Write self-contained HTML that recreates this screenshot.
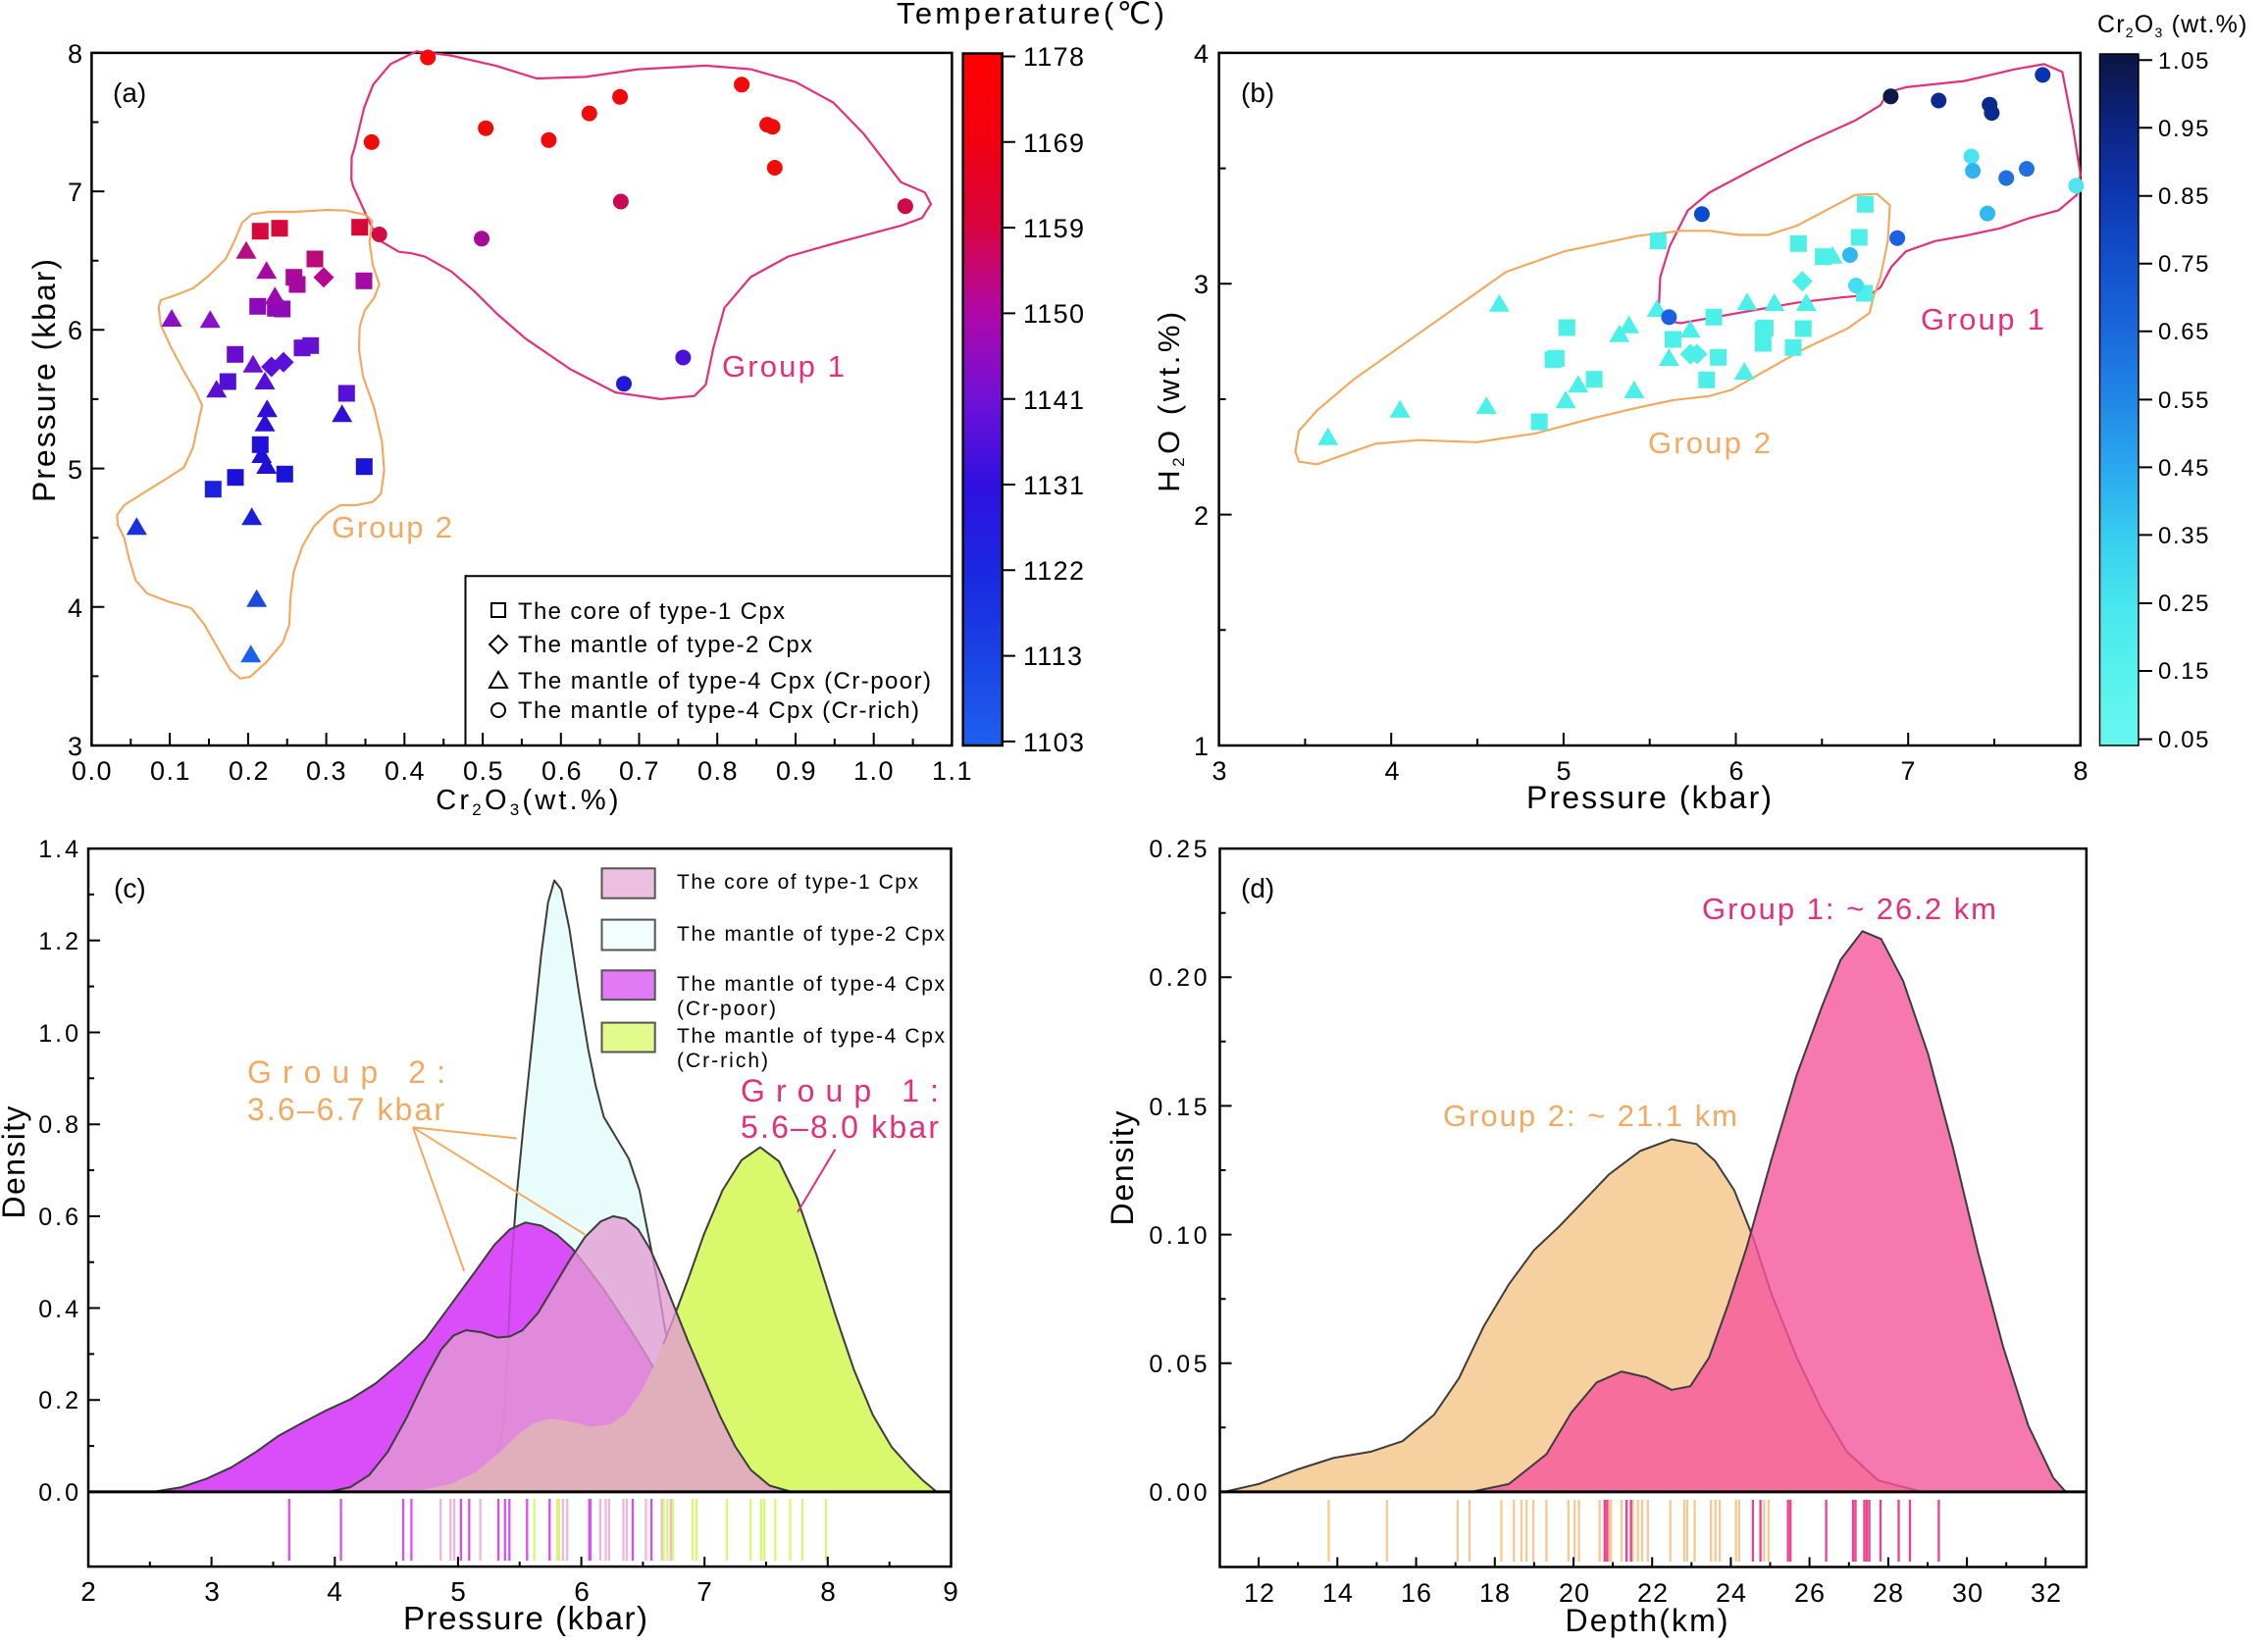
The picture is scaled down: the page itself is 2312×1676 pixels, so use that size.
<!DOCTYPE html>
<html><head><meta charset="utf-8"><style>html,body{margin:0;padding:0;background:#fff}svg{display:block}</style></head><body>
<svg xmlns="http://www.w3.org/2000/svg" width="2312" height="1676" viewBox="0 0 2312 1676" font-family="'Liberation Sans', 'DejaVu Sans', Arial, sans-serif">
<defs>
<linearGradient id="gT" x1="0" y1="0" x2="0" y2="1">
<stop offset="0" stop-color="#ff0000"/><stop offset="0.125" stop-color="#f2000f"/><stop offset="0.25" stop-color="#d80440"/><stop offset="0.375" stop-color="#b008a8"/><stop offset="0.5" stop-color="#7010d8"/><stop offset="0.625" stop-color="#3010e0"/><stop offset="0.75" stop-color="#1a28e0"/><stop offset="0.875" stop-color="#1a44e4"/><stop offset="1" stop-color="#1e60f0"/>
</linearGradient>
<linearGradient id="gC" x1="0" y1="0" x2="0" y2="1">
<stop offset="0" stop-color="#0c1440"/><stop offset="0.1" stop-color="#0c2480"/><stop offset="0.2" stop-color="#0e36b0"/><stop offset="0.3" stop-color="#1250cc"/><stop offset="0.4" stop-color="#1a68dc"/><stop offset="0.5" stop-color="#2088e6"/><stop offset="0.6" stop-color="#2aa8ee"/><stop offset="0.7" stop-color="#38cef0"/><stop offset="0.8" stop-color="#48e6ee"/><stop offset="0.9" stop-color="#58f2ee"/><stop offset="1" stop-color="#68f6f0"/>
</linearGradient>
<rect id="sq" x="-8.5" y="-8.5" width="17" height="17"/>
<path id="tri" d="M0,-11L10.5,7L-10.5,7Z"/>
<path id="dia" d="M0,-10.5L10.5,0L0,10.5L-10.5,0Z"/>
<circle id="ci" r="8"/>
</defs>

<!-- ================= PANEL (a) ================= -->
<g fill="none" stroke="#000" stroke-width="2.5">
<rect x="93.4" y="53.9" width="877" height="706.1"/>
<path d="M93.4,760v-13M133.3,760v-7M173.1,760v-13M213,760v-7M252.9,760v-13M292.7,760v-7M332.6,760v-13M372.5,760v-7M412.3,760v-13M452.2,760v-7M492.1,760v-13M531.9,760v-7M571.8,760v-13M611.6,760v-7M651.5,760v-13M691.4,760v-7M731.2,760v-13M771.1,760v-7M811,760v-13M850.8,760v-7M890.7,760v-13M930.6,760v-7" stroke-width="2"/>
<path d="M93.4,689.4h7M93.4,618.8h13M93.4,548.2h7M93.4,477.6h13M93.4,406.9h7M93.4,336.3h13M93.4,265.7h7M93.4,195.1h13M93.4,124.5h7M93.4,53.9h13" stroke-width="2"/>
<path d="M474.5,760V587.3H970.4" stroke-width="2"/>
</g>
<g font-size="27" letter-spacing="1.5" text-anchor="middle">
<text x="94" y="795">0.0</text><text x="174" y="795">0.1</text><text x="254" y="795">0.2</text><text x="333" y="795">0.3</text><text x="413" y="795">0.4</text><text x="493" y="795">0.5</text><text x="573" y="795">0.6</text><text x="652" y="795">0.7</text><text x="732" y="795">0.8</text><text x="812" y="795">0.9</text><text x="891" y="795">1.0</text><text x="971" y="795">1.1</text>
</g>
<g font-size="27" text-anchor="end">
<text x="84" y="770">3</text><text x="84" y="629">4</text><text x="84" y="488">5</text><text x="84" y="346">6</text><text x="84" y="205">7</text><text x="84" y="64">8</text>
</g>
<text x="539" y="825" font-size="29" letter-spacing="3.2" text-anchor="middle">Cr<tspan font-size="17" dy="6">2</tspan><tspan dy="-6">O</tspan><tspan font-size="17" dy="6">3</tspan><tspan dy="-6">(wt.%)</tspan></text>
<text transform="translate(56,388) rotate(-90)" font-size="32" text-anchor="middle" textLength="248" lengthAdjust="spacing">Pressure (kbar)</text>
<text x="115" y="104" font-size="28">(a)</text>

<!-- group outlines (a) -->
<path d="M424.7,52.3L459.2,56.5L505.1,66.9L547.2,80L596.9,78.4L650.5,70.6L719.4,66.9L765.3,70.6L811.2,83.7L849.5,104.6L880.1,136L918.4,185.7L942.8,196.1L949,208.1L939.8,222.3L918.4,230.1L849.5,248.4L803.6,261.5L765.3,282.4L738.5,313.8L727,355.6L719.4,392.2L707.9,403.7L673.5,406.9L627.5,400.1L581.6,376.5L535.7,345.2L506.7,320L483.3,296.7L460,276.7L433.3,261.7L420,258.3L406.7,256.7L386.7,245L378.3,230L360,190L358.2,183L358.5,160L361.2,151.7L371.2,109.8L380.4,86.3L398,65.4Z" fill="none" stroke="#e3307c" stroke-width="2.2" stroke-linejoin="round"/>
<g transform="matrix(0.33333,0,0,0.33333,100,190)">
<path d="M838,105L830,170L840,240L860,300L845,340L815,380L800,430L798,500L810,580L845,680L868,780L875,870L865,940L840,965L790,975L740,975L700,1000L660,1040L625,1100L598,1180L588,1260L585,1340L565,1395L515,1455L465,1500L435,1505L405,1480L365,1410L325,1340L285,1290L215,1270L150,1245L115,1205L95,1140L80,1075L60,1035L58,1005L80,975L135,940L200,900L262,860L290,800L305,730L318,670L300,630L262,565L222,490L192,425L185,370L192,348L230,335L290,312L340,272L390,222L418,165L440,112L470,85L520,78L600,78L700,72L760,74L820,88Z" fill="none" stroke="#f2aa62" stroke-width="2.2" vector-effect="non-scaling-stroke" stroke-linejoin="round"/>
</g>
<text x="736" y="384" font-size="31" fill="#e3307c" textLength="125" lengthAdjust="spacing">Group 1</text>
<text x="338" y="548" font-size="31" fill="#f2aa62" textLength="123" lengthAdjust="spacing">Group 2</text>

<!-- markers (a) -->
<g>
<use href="#sq" x="265.3" y="235.7" fill="#d6083c"/><use href="#sq" x="285" y="232.7" fill="#d6083c"/><use href="#sq" x="366.7" y="231.7" fill="#da0636"/>
<use href="#sq" x="321" y="264" fill="#b80a78"/><use href="#sq" x="299.7" y="282.7" fill="#aa0a96"/><use href="#sq" x="303" y="290" fill="#a40aa0"/><use href="#sq" x="371" y="286.3" fill="#a40aa4"/>
<use href="#sq" x="262.7" y="312.3" fill="#8e0ab8"/><use href="#sq" x="280.7" y="314.3" fill="#8e0ab8"/><use href="#sq" x="287.7" y="315" fill="#8e0ab8"/>
<use href="#sq" x="239.7" y="361.3" fill="#6a0cd0"/><use href="#sq" x="308" y="354.7" fill="#6610d2"/><use href="#sq" x="316.7" y="352.3" fill="#6610d2"/>
<use href="#sq" x="232.3" y="389" fill="#5010d8"/><use href="#sq" x="353.3" y="401" fill="#5610d8"/>
<use href="#sq" x="265.3" y="453.3" fill="#2210d8"/><use href="#sq" x="240" y="486.7" fill="#1a12d8"/><use href="#sq" x="217.3" y="498.7" fill="#1a20dc"/><use href="#sq" x="290.3" y="483.3" fill="#1a14d8"/><use href="#sq" x="371.3" y="475.7" fill="#1a14d8"/>
<use href="#dia" x="330" y="282.7" fill="#b40890"/><use href="#dia" x="276.7" y="374" fill="#5a10d8"/><use href="#dia" x="289" y="369.3" fill="#5a10d8"/>
<use href="#tri" x="251" y="256.7" fill="#b41080"/><use href="#tri" x="271.7" y="277.3" fill="#a40aa0"/><use href="#tri" x="280.3" y="303.3" fill="#9a0ab4"/>
<use href="#tri" x="175" y="326" fill="#8a10c8"/><use href="#tri" x="214.3" y="327.3" fill="#8a10c8"/><use href="#tri" x="258" y="372.7" fill="#6a10d0"/>
<use href="#tri" x="270" y="390" fill="#5410d8"/><use href="#tri" x="220.7" y="398.3" fill="#5a10d0"/><use href="#tri" x="272.3" y="418.3" fill="#3010d8"/>
<use href="#tri" x="270" y="432.7" fill="#2a10d8"/><use href="#tri" x="348.7" y="423.3" fill="#3010d8"/><use href="#tri" x="266.7" y="465" fill="#2010d8"/>
<use href="#tri" x="271.7" y="476" fill="#2010d8"/><use href="#tri" x="256.7" y="528.3" fill="#1a20d8"/><use href="#tri" x="139.3" y="538.3" fill="#1a30d8"/>
<use href="#tri" x="261.7" y="611.7" fill="#1a4ae0"/><use href="#tri" x="255.7" y="668.3" fill="#1e60ee"/>
<use href="#ci" x="436.2" y="58.6" fill="#f80808"/><use href="#ci" x="378.8" y="144.9" fill="#f00a0a"/><use href="#ci" x="495.2" y="130.7" fill="#f00a0a"/>
<use href="#ci" x="559.4" y="142.8" fill="#f00a0a"/><use href="#ci" x="600.8" y="115.6" fill="#f00a0a"/><use href="#ci" x="632.1" y="98.8" fill="#f00a0a"/>
<use href="#ci" x="756.1" y="86.3" fill="#f00a0a"/><use href="#ci" x="782.1" y="127.1" fill="#f00a0a"/><use href="#ci" x="787.5" y="129.2" fill="#f00a0a"/>
<use href="#ci" x="789.8" y="171" fill="#f00a0a"/><use href="#ci" x="632.9" y="205.5" fill="#c80a55"/><use href="#ci" x="922.9" y="210.2" fill="#d00a48"/>
<use href="#ci" x="386.7" y="239" fill="#d00c45"/><use href="#ci" x="491" y="243.3" fill="#a80a98"/><use href="#ci" x="696.4" y="364.5" fill="#4c10d8"/><use href="#ci" x="636" y="391.2" fill="#2418d8"/>
</g>
<!-- legend (a) -->
<g fill="none" stroke="#000" stroke-width="2">
<rect x="501" y="615" width="14" height="14"/>
<path d="M508,648L517,657L508,666L499,657Z"/>
<path d="M508,685L517,701L499,701Z"/>
<circle cx="508" cy="724" r="7"/>
</g>
<g font-size="24">
<text x="528" y="631" textLength="272" lengthAdjust="spacing">The core of type-1 Cpx</text>
<text x="528" y="665" textLength="300" lengthAdjust="spacing">The mantle of type-2 Cpx</text>
<text x="528" y="702" textLength="421" lengthAdjust="spacing">The mantle of type-4 Cpx (Cr-poor)</text>
<text x="528" y="732" textLength="409" lengthAdjust="spacing">The mantle of type-4 Cpx (Cr-rich)</text>
</g>
<!-- colorbar (a) -->
<rect x="981.7" y="54.5" width="40" height="705.5" fill="url(#gT)" stroke="#000" stroke-width="2.5"/>
<path d="M1022,57.5h13M1022,144.8h13M1022,232.1h13M1022,319.4h13M1022,406.7h13M1022,494h13M1022,581.3h13M1022,668.6h13M1022,755.9h13" stroke="#000" stroke-width="2"/>
<g font-size="27" letter-spacing="1.3">
<text x="1043" y="67">1178</text><text x="1043" y="155">1169</text><text x="1043" y="242">1159</text><text x="1043" y="329">1150</text><text x="1043" y="417">1141</text><text x="1043" y="504">1131</text><text x="1043" y="591">1122</text><text x="1043" y="678">1113</text><text x="1043" y="766">1103</text>
</g>
<text x="914" y="24" font-size="31" textLength="273" lengthAdjust="spacing">Temperature(℃)</text>

<!-- ================= PANEL (b) ================= -->
<g fill="none" stroke="#000" stroke-width="2.5">
<rect x="1242.6" y="53.9" width="878.2" height="706.1"/>
<path d="M1330.4,760v-7M1418.2,760v-13M1506.1,760v-7M1593.9,760v-13M1681.7,760v-7M1769.5,760v-13M1857.3,760v-7M1945.2,760v-13M2033,760v-7" stroke-width="2"/>
<path d="M1242.6,642.3h7M1242.6,524.6h13M1242.6,407h7M1242.6,289.3h13M1242.6,171.6h7M1242.6,53.9h13" stroke-width="2"/>
</g>
<g font-size="27" text-anchor="middle">
<text x="1243" y="795">3</text><text x="1419" y="795">4</text><text x="1594" y="795">5</text><text x="1770" y="795">6</text><text x="1945" y="795">7</text><text x="2121" y="795">8</text>
</g>
<g font-size="27" text-anchor="end">
<text x="1232" y="770">1</text><text x="1232" y="535">2</text><text x="1232" y="299">3</text><text x="1232" y="64">4</text>
</g>
<text x="1681" y="824" font-size="32" text-anchor="middle" textLength="250" lengthAdjust="spacing">Pressure (kbar)</text>
<text transform="translate(1202,408) rotate(-90)" font-size="31" text-anchor="middle" letter-spacing="3.5">H<tspan font-size="17" dy="5">2</tspan><tspan dy="-5">O (wt.%)</tspan></text>
<text x="1265" y="104" font-size="28">(b)</text>

<g transform="matrix(0.74107,0,0,0.52296,1150,0)" fill="none" stroke-width="2.2" stroke-linejoin="round">
<path vector-effect="non-scaling-stroke" stroke="#e3307c" d="M770,410L800,375L860,330L930,280L1000,235L1035,205L1045,180L1070,170L1150,158L1220,135L1260,125L1285,140L1300,250L1310,340L1305,380L1280,410L1240,425L1200,445L1150,460L1110,470L1070,490L1050,520L1035,560L1020,575L980,580L920,590L860,605L800,620L760,630L740,625L730,600L732,540L745,480Z"/>
<path vector-effect="non-scaling-stroke" stroke="#f2aa62" d="M230,880L235,840L260,800L310,740L380,670L450,600L520,530L600,490L700,460L760,450L800,450L840,458L880,458L920,440L960,410L1000,380L1030,378L1048,400L1045,470L1035,540L1025,580L1020,610L990,640L930,680L880,720L830,760L800,772L750,780L700,795L640,815L560,845L480,862L400,858L340,865L300,885L260,905L235,900Z"/>
</g>
<text x="1958" y="336" font-size="31" fill="#e3307c" textLength="126" lengthAdjust="spacing">Group 1</text>
<text x="1680" y="462" font-size="31" fill="#f2aa62" textLength="125" lengthAdjust="spacing">Group 2</text>

<g fill="#4cf0e8">
<use href="#sq" x="1901.4" y="208.3"/><use href="#sq" x="1690.4" y="245.7"/><use href="#sq" x="1833.3" y="248.3"/><use href="#sq" x="1895.3" y="242"/><use href="#sq" x="1858.6" y="261.7"/>
<use href="#sq" x="1900.6" y="299"/><use href="#sq" x="1597.3" y="334"/><use href="#sq" x="1747.1" y="323.3"/><use href="#sq" x="1705.5" y="346"/><use href="#sq" x="1586.3" y="365.3"/>
<use href="#sq" x="1583.1" y="366.7"/><use href="#sq" x="1799.4" y="334.3"/><use href="#sq" x="1797.3" y="336"/><use href="#sq" x="1797.3" y="350"/><use href="#sq" x="1838.2" y="335"/>
<use href="#sq" x="1828" y="354.3"/><use href="#sq" x="1751.6" y="364.3"/><use href="#sq" x="1739.8" y="387.3"/><use href="#sq" x="1625.1" y="386.7"/><use href="#sq" x="1569.2" y="430"/>
<use href="#dia" x="1837.3" y="286.7"/><use href="#dia" x="1723.1" y="361"/><use href="#dia" x="1730" y="361"/>
<use href="#tri" x="1353.7" y="446.7"/><use href="#tri" x="1427.1" y="418.7"/><use href="#tri" x="1515.3" y="415"/><use href="#tri" x="1528.4" y="310.7"/><use href="#tri" x="1596.1" y="409.3"/>
<use href="#tri" x="1608.8" y="393.3"/><use href="#tri" x="1650.8" y="341.7"/><use href="#tri" x="1660.6" y="332.7"/><use href="#tri" x="1665.9" y="399"/><use href="#tri" x="1689.2" y="316"/>
<use href="#tri" x="1701.4" y="366"/><use href="#tri" x="1723.1" y="337.3"/><use href="#tri" x="1778.2" y="380"/><use href="#tri" x="1781" y="309.3"/><use href="#tri" x="1808.8" y="310"/>
<use href="#tri" x="1841.4" y="310"/><use href="#tri" x="1868" y="261.7"/>
</g>
<g>
<use href="#ci" x="1927.4" y="98.3" fill="#0c1846"/><use href="#ci" x="1976.3" y="102.5" fill="#0a2a90"/><use href="#ci" x="2028.2" y="106.7" fill="#0a2a90"/><use href="#ci" x="2030.4" y="115.1" fill="#0a2a90"/>
<use href="#ci" x="2082.3" y="76.4" fill="#0a34b0"/><use href="#ci" x="1734.9" y="218.3" fill="#0a4cd0"/><use href="#ci" x="1701.4" y="323.3" fill="#1a60e0"/><use href="#ci" x="1934.1" y="242.7" fill="#1a60e0"/>
<use href="#ci" x="2009.6" y="159.5" fill="#48e4f0"/><use href="#ci" x="2011.1" y="174.1" fill="#30b4f0"/><use href="#ci" x="2045.2" y="181.5" fill="#2070e0"/><use href="#ci" x="2066" y="172.1" fill="#2070e0"/>
<use href="#ci" x="2116.4" y="189.3" fill="#50e4f0"/><use href="#ci" x="2026" y="217.6" fill="#30b8f0"/><use href="#ci" x="1885.9" y="260" fill="#30b8f0"/><use href="#ci" x="1892" y="291" fill="#48dcf0"/>
</g>
<!-- colorbar (b) -->
<rect x="2140.5" y="55" width="39.5" height="705" fill="url(#gC)" stroke="#000" stroke-width="1.5"/>
<path d="M2180,61.2h14M2180,130.2h14M2180,199.8h14M2180,268.8h14M2180,337.8h14M2180,407.4h14M2180,476.4h14M2180,545.4h14M2180,615h14M2180,684h14M2180,753.6h14" stroke="#000" stroke-width="2"/>
<g font-size="24" letter-spacing="1.6">
<text x="2200" y="70">1.05</text><text x="2200" y="139">0.95</text><text x="2200" y="208">0.85</text><text x="2200" y="277">0.75</text><text x="2200" y="346">0.65</text><text x="2200" y="416">0.55</text><text x="2200" y="485">0.45</text><text x="2200" y="554">0.35</text><text x="2200" y="623">0.25</text><text x="2200" y="692">0.15</text><text x="2200" y="762">0.05</text>
</g>
<text x="2138" y="33" font-size="25" letter-spacing="1.2">Cr<tspan font-size="14" dy="5">2</tspan><tspan dy="-5">O</tspan><tspan font-size="14" dy="5">3</tspan><tspan dy="-5"> (wt.%)</tspan></text>

<!-- ================= PANEL (c) ================= -->
<g transform="matrix(0.6378,0,0,0.5332,0,840)" stroke="#3c3c3c" stroke-width="2" stroke-linejoin="round">
<!-- cyan (type-2) -->
<path vector-effect="non-scaling-stroke" fill="#e9fcfc" d="M700,1277L760,1262L790,1230L805,1150L812,1000L817,850L825,720L838,560L852,400L865,250L876,150L886,108L897,125L910,200L925,320L940,430L952,500L965,560L985,600L1005,640L1022,700L1037,790L1050,870L1062,960L1078,1060L1095,1150L1115,1230L1140,1270L1170,1277Z"/>
<!-- purple (Cr-poor) -->
<path vector-effect="non-scaling-stroke" fill="#d94ef8" d="M245,1277L290,1268L330,1252L370,1230L410,1200L445,1170L480,1147L520,1122L560,1100L600,1070L640,1030L680,985L720,920L760,855L790,805L815,775L840,762L865,768L890,785L915,812L940,850L965,890L990,935L1020,990L1050,1050L1080,1110L1110,1165L1140,1210L1170,1240L1200,1260L1240,1272L1280,1277Z"/>
<!-- faint cyan edge through purple -->
<path vector-effect="non-scaling-stroke" fill="none" stroke-opacity="0.25" d="M700,1277L760,1262L790,1230L805,1150L812,1000L817,850L825,720M1062,960L1078,1060L1095,1150L1115,1230L1140,1270L1170,1277"/>
<!-- green (Cr-rich) fill with small bump -->
<path fill="#d9f86c" stroke="none" d="M620,1277L680,1272L720,1262L760,1240L800,1200L830,1165L855,1145L880,1137L910,1142L945,1153L975,1148L1000,1128L1025,1085L1050,1025L1075,950L1100,870L1125,785L1155,700L1185,643L1215,618L1245,645L1275,719L1305,824L1335,938L1365,1044L1395,1130L1425,1191L1455,1231L1475,1255L1497,1277Z"/>
<path vector-effect="non-scaling-stroke" fill="none" d="M1060,995L1075,950L1100,870L1125,785L1155,700L1185,643L1215,618L1245,645L1275,719L1305,824L1335,938L1365,1044L1395,1130L1425,1191L1455,1231L1475,1255L1497,1277"/>
<!-- pink (type-1 core) -->
<path vector-effect="non-scaling-stroke" fill="#e39ad2" fill-opacity="0.78" d="M525,1277L560,1268L590,1245L620,1200L650,1135L680,1060L705,1005L725,978L745,968L770,972L795,982L815,980L835,968L860,935L885,885L910,835L935,790L960,760L980,750L1000,755L1020,775L1040,815L1060,870L1080,930L1100,990L1125,1060L1150,1130L1175,1190L1200,1235L1230,1265L1265,1277Z"/>
</g>
<!-- rug (c) -->
<g stroke-width="2.3">
<path stroke="#d84ef5" d="M294.8,1528v63M347.6,1528v63M411,1528v63M419.4,1528v63M469.9,1528v63M478.3,1528v63M508.1,1528v63M514.8,1528v63M519.3,1528v63M537.3,1528v63M560.3,1528v63M600.7,1528v63M601.8,1528v63M645,1528v63M664.1,1528v63"/>
<path stroke="#eeb6de" d="M449.2,1528v63M459.3,1528v63M463.2,1528v63M489.6,1528v63M573.8,1528v63M578.2,1528v63M611.9,1528v63M617.5,1528v63M620.9,1528v63M635.5,1528v63M638.9,1528v63M658.5,1528v63M674.8,1528v63M683.8,1528v63"/>
<path stroke="#d8f870" d="M544.6,1528v63M568.1,1528v63M569.8,1528v63M676.5,1528v63M680.4,1528v63M686,1528v63M706.2,1528v63M710.1,1528v63M741,1528v63M765.1,1528v63M775.8,1528v63M779.2,1528v63M790.4,1528v63M805.5,1528v63M817.9,1528v63M842,1528v63"/>
</g>
<g fill="none" stroke="#000">
<rect x="90" y="865.1" width="879.5" height="732" stroke-width="2.5"/>
<path d="M90,1520.9H969.5" stroke-width="3"/>
<path d="M90,1427.2h12M90,1333.5h12M90,1239.9h12M90,1146.2h12M90,1052.5h12M90,958.8h12M90,1474.1h6M90,1380.4h6M90,1286.7h6M90,1193h6M90,1099.3h6M90,1005.6h6M90,911.9h6" stroke-width="2"/>
<path d="M215.6,1597v-10M341.3,1597v-10M466.9,1597v-10M592.6,1597v-10M718.2,1597v-10M843.8,1597v-10M152.8,1597v-5M278.5,1597v-5M404.1,1597v-5M529.7,1597v-5M655.4,1597v-5M781,1597v-5M906.7,1597v-5" stroke-width="2"/>
</g>
<g font-size="25" letter-spacing="3" text-anchor="end">
<text x="83" y="1530">0.0</text><text x="83" y="1436">0.2</text><text x="83" y="1343">0.4</text><text x="83" y="1249">0.6</text><text x="83" y="1155">0.8</text><text x="83" y="1062">1.0</text><text x="83" y="968">1.2</text><text x="83" y="874">1.4</text>
</g>
<g font-size="28" text-anchor="middle">
<text x="90" y="1632">2</text><text x="216" y="1632">3</text><text x="341" y="1632">4</text><text x="467" y="1632">5</text><text x="593" y="1632">6</text><text x="718" y="1632">7</text><text x="844" y="1632">8</text><text x="969" y="1632">9</text>
</g>
<text x="535.5" y="1661" font-size="33" text-anchor="middle" textLength="249" lengthAdjust="spacing">Pressure (kbar)</text>
<text transform="translate(25,1185) rotate(-90)" font-size="32" text-anchor="middle" textLength="115" lengthAdjust="spacing">Density</text>
<text x="116" y="915" font-size="28">(c)</text>
<!-- legend (c) -->
<g stroke="#555" stroke-width="2">
<rect x="613.5" y="885.3" width="54.2" height="30.4" fill="#ecbfe0"/>
<rect x="613.5" y="937.6" width="54.2" height="30.9" fill="#f2fdfd"/>
<rect x="613.5" y="989.3" width="54.2" height="29.8" fill="#e27af5"/>
<rect x="613.5" y="1042.6" width="54.2" height="29.9" fill="#e2fb8c"/>
</g>
<g font-size="21">
<text x="690" y="906" textLength="246" lengthAdjust="spacing">The core of type-1 Cpx</text>
<text x="690" y="959" textLength="273" lengthAdjust="spacing">The mantle of type-2 Cpx</text>
<text x="690" y="1010" textLength="273" lengthAdjust="spacing">The mantle of type-4 Cpx</text>
<text x="690" y="1035" textLength="101" lengthAdjust="spacing">(Cr-poor)</text>
<text x="690" y="1063" textLength="273" lengthAdjust="spacing">The mantle of type-4 Cpx</text>
<text x="690" y="1088" textLength="93" lengthAdjust="spacing">(Cr-rich)</text>
</g>
<!-- annotations (c) -->
<g fill="none" stroke-width="2">
<path stroke="#f2aa62" d="M421,1149.3L526.8,1160.5M421,1149.3L596.3,1258.6M421,1149.3L473.2,1295.9"/>
<path stroke="#e3307c" d="M851.4,1171.7L813.2,1235.6"/>
</g>
<g font-size="32" fill="#f2aa62">
<text x="252" y="1104" textLength="202" lengthAdjust="spacing">Group 2:</text>
<text x="252" y="1142" textLength="201" lengthAdjust="spacing">3.6–6.7 kbar</text>
</g>
<g font-size="32" fill="#e3307c">
<text x="755" y="1123" textLength="202" lengthAdjust="spacing">Group 1:</text>
<text x="755" y="1160" textLength="202" lengthAdjust="spacing">5.6–8.0 kbar</text>
</g>

<!-- ================= PANEL (d) ================= -->
<g transform="matrix(0.6378,0,0,0.5332,1130,840)" stroke="#3c3c3c" stroke-width="2" stroke-linejoin="round">
<path vector-effect="non-scaling-stroke" fill="#f7d09f" d="M185,1277L240,1262L300,1235L360,1212L420,1200L470,1180L520,1130L560,1060L600,960L640,880L680,815L720,770L760,720L800,670L850,625L900,603L940,612L970,645L1000,700L1030,790L1060,900L1100,1020L1140,1120L1180,1200L1230,1255L1300,1277Z"/>
<path vector-effect="non-scaling-stroke" fill="#f5559b" fill-opacity="0.8" d="M580,1277L640,1262L700,1205L740,1125L780,1068L820,1047L860,1058L900,1082L930,1075L960,1020L990,920L1020,810L1060,640L1100,480L1140,350L1170,260L1205,205L1235,220L1270,300L1310,440L1350,620L1390,820L1430,1000L1470,1150L1510,1250L1530,1277Z"/>
</g>
<g stroke-width="2.3">
<path stroke="#f6c894" d="M1354.5,1529v63M1413.8,1529v63M1485.9,1529v63M1498,1529v63M1530.5,1529v63M1543.3,1529v63M1550.9,1529v63M1556.1,1529v63M1563.1,1529v63M1576.5,1529v63M1598.8,1529v63M1605.2,1529v63M1609.6,1529v63M1630.7,1529v63M1640.2,1529v63M1642.2,1529v63M1653,1529v63M1664.5,1529v63M1669.6,1529v63M1674,1529v63M1679.8,1529v63M1702.7,1529v63M1716.8,1529v63M1720,1529v63M1727.6,1529v63M1744.2,1529v63M1748.7,1529v63M1753.1,1529v63M1769.7,1529v63M1772.9,1529v63M1798.4,1529v63M1802.9,1529v63"/>
<path stroke="#ee3f8e" d="M1635.8,1529v63M1638.3,1529v63M1658.1,1529v63M1662.6,1529v63M1786.9,1529v63M1794.6,1529v63M1822.7,1529v63M1825.2,1529v63M1861.6,1529v63M1889,1529v63M1891.5,1529v63M1900.5,1529v63M1903,1529v63M1905.6,1529v63M1917,1529v63M1935.5,1529v63M1947,1529v63M1976.4,1529v63"/>
</g>
<g fill="none" stroke="#000">
<rect x="1243.5" y="865.1" width="883.4" height="732.4" stroke-width="2.5"/>
<path d="M1243.5,1520.9H2126.9" stroke-width="3"/>
<path d="M1243.5,1389.7h12M1243.5,1258.6h12M1243.5,1127.4h12M1243.5,996.3h12M1243.5,1455.3h6M1243.5,1324.2h6M1243.5,1193h6M1243.5,1061.8h6M1243.5,930.7h6" stroke-width="2"/>
<path d="M1283.1,1597.5v-10M1363.3,1597.5v-10M1443.6,1597.5v-10M1523.8,1597.5v-10M1604,1597.5v-10M1684.2,1597.5v-10M1764.4,1597.5v-10M1844.6,1597.5v-10M1924.9,1597.5v-10M2005.1,1597.5v-10M2085.3,1597.5v-10M1323.2,1597.5v-5M1403.4,1597.5v-5M1483.7,1597.5v-5M1563.9,1597.5v-5M1644.1,1597.5v-5M1724.3,1597.5v-5M1804.5,1597.5v-5M1884.8,1597.5v-5M1965,1597.5v-5M2045.2,1597.5v-5" stroke-width="2"/>
</g>
<g font-size="25" letter-spacing="3.5" text-anchor="end">
<text x="1234" y="1530">0.00</text><text x="1234" y="1399">0.05</text><text x="1234" y="1268">0.10</text><text x="1234" y="1137">0.15</text><text x="1234" y="1005">0.20</text><text x="1234" y="874">0.25</text>
</g>
<g font-size="27" letter-spacing="1" text-anchor="middle">
<text x="1284" y="1633">12</text><text x="1364" y="1633">14</text><text x="1444" y="1633">16</text><text x="1524" y="1633">18</text><text x="1605" y="1633">20</text><text x="1685" y="1633">22</text><text x="1765" y="1633">24</text><text x="1845" y="1633">26</text><text x="1925" y="1633">28</text><text x="2006" y="1633">30</text><text x="2086" y="1633">32</text>
</g>
<text x="1678.5" y="1663" font-size="32" text-anchor="middle" textLength="166" lengthAdjust="spacing">Depth(km)</text>
<text transform="translate(1155,1191) rotate(-90)" font-size="32" text-anchor="middle" textLength="117" lengthAdjust="spacing">Density</text>
<text x="1265" y="915" font-size="28">(d)</text>
<text x="1735" y="937" font-size="31" fill="#e3307c" textLength="300" lengthAdjust="spacing">Group 1: ~ 26.2 km</text>
<text x="1471" y="1148" font-size="31" fill="#f2aa62" textLength="300" lengthAdjust="spacing">Group 2: ~ 21.1 km</text>
</svg>
</body></html>
